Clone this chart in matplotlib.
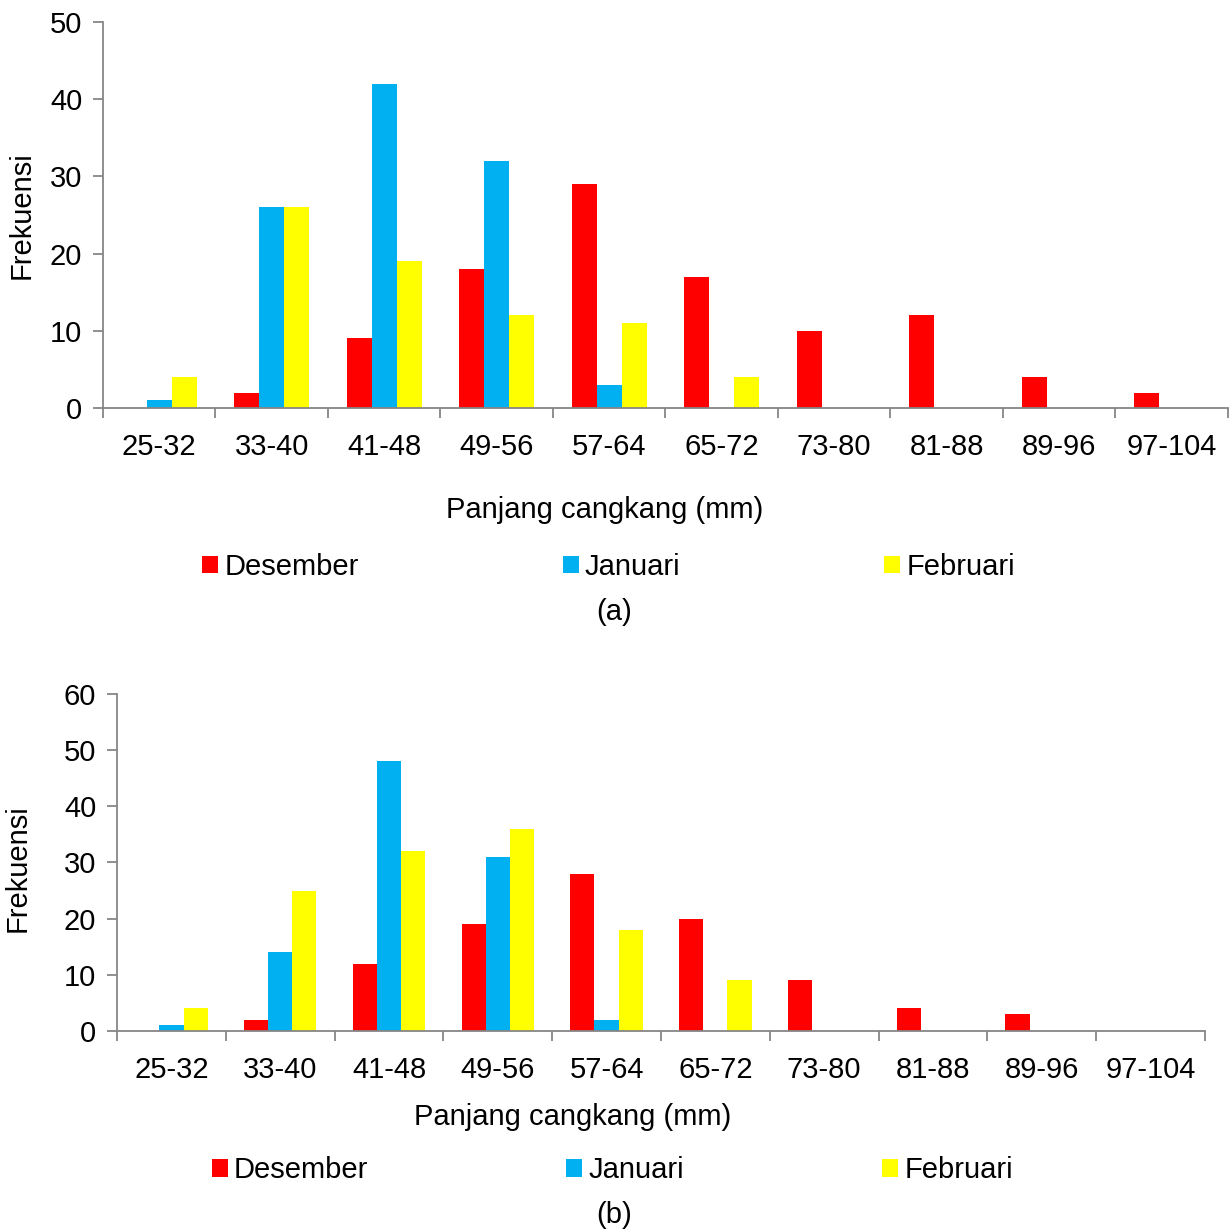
import numpy as np
import matplotlib.pyplot as plt

plt.rcParams['font.family'] = ['Liberation Sans', 'DejaVu Sans']

# kelas panjang cangkang (mm)
kelas = ["25-32", "33-40", "41-48", "49-56", "57-64", "65-72",
         "73-80", "81-88", "89-96", "97-104"]
bulan = ["Desember", "Januari", "Februari"]
warna = ["#FF0000", "#00B0F0", "#FFFF00"]

# panel (a)
des_a = [0, 2, 9, 18, 29, 17, 10, 12, 4, 2]
jan_a = [1, 26, 42, 32, 3, 0, 0, 0, 0, 0]
feb_a = [4, 26, 19, 12, 11, 4, 0, 0, 0, 0]

# panel (b)
des_b = [0, 2, 12, 19, 28, 20, 9, 4, 3, 0]
jan_b = [1, 14, 48, 31, 2, 0, 0, 0, 0, 0]
feb_b = [4, 25, 32, 36, 18, 9, 0, 0, 0, 0]

fs = 21
abu = "#868686"
W, H = 1232, 1231


def gambar(ax, data, ymax):
    x = np.arange(len(kelas))
    w = 0.222
    bars = []
    for i, (nilai, c) in enumerate(zip(data, warna)):
        b = ax.bar(x + (i - 1) * w, nilai, width=w, color=c, label=bulan[i])
        bars.append(b)
    ax.set_xlim(-0.5, len(kelas) - 0.5)
    ax.set_ylim(0, ymax)
    ax.set_yticks(np.arange(0, ymax + 1, 10))
    ax.set_xticks(x)
    ax.set_xticklabels(kelas)
    ax.set_xticks(np.arange(-0.5, len(kelas)), minor=True)
    ax.tick_params(axis='x', which='major', length=0, pad=18, labelsize=fs)
    ax.tick_params(axis='x', which='minor', length=7, width=1.3, color=abu)
    ax.tick_params(axis='y', length=7, width=1.3, color=abu, pad=8, labelsize=fs)
    for s in ['top', 'right']:
        ax.spines[s].set_visible(False)
    for s in ['left', 'bottom']:
        ax.spines[s].set_color(abu)
        ax.spines[s].set_linewidth(1.3)
    return bars


def teks(px, py, s, **kw):
    fig.text(px / W, 1 - py / H, s, ha='center', va='center', fontsize=fs, **kw)


fig = plt.figure(figsize=(W / 100, H / 100), dpi=100)

ax1 = fig.add_axes([0.0836, 0.6686, 0.913, 0.3136])
h1 = gambar(ax1, [des_a, jan_a, feb_a], 50)
teks(22, 215, "Frekuensi", rotation=90)
teks(605, 510, "Panjang cangkang (mm)")
fig.legend(h1, bulan, loc='center', bbox_to_anchor=(0.494, 0.5394), ncol=3,
           frameon=False, fontsize=fs, handlelength=0.55, handleheight=0.55,
           handletextpad=0.2, columnspacing=7.0)
teks(614, 612, "(a)")

ax2 = fig.add_axes([0.095, 0.1625, 0.883, 0.2738])
h2 = gambar(ax2, [des_b, jan_b, feb_b], 60)
teks(18, 868, "Frekuensi", rotation=90)
teks(573, 1117, "Panjang cangkang (mm)")
fig.legend(h2, bulan, loc='center', bbox_to_anchor=(0.497, 0.0495), ncol=3,
           frameon=False, fontsize=fs, handlelength=0.55, handleheight=0.55,
           handletextpad=0.2, columnspacing=6.8)
teks(614, 1215, "(b)")

fig.savefig("out.png", dpi=100)
